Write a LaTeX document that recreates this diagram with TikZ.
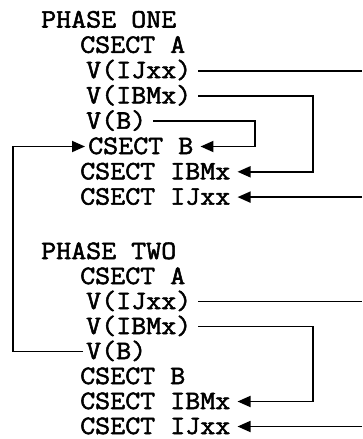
\documentclass[tikz,border=0pt]{standalone}
\usepackage{fontspec}
\newfontfamily\typew{Latin Modern Mono}[FakeBold=2,FakeStretch=1.1]
\usetikzlibrary{arrows.meta}
\begin{document}
\begin{tikzpicture}[x=1pt,y=-1pt,
  lbl/.style={anchor=base west, inner xsep=7pt, inner ysep=0pt, text height=15pt, text depth=0pt, font=\typew\fontsize{26.5}{26.5}\selectfont},
  conn/.style={line width=1.8pt},
  arr/.style={conn, -{Triangle[length=13pt,width=11pt]}}]
\useasboundingbox (0,0) rectangle (362,439);
\coordinate (R) at (362,0);
\coordinate (c1) at (313,0);
\coordinate (c2) at (255,0);
\coordinate (L) at (13,0);
% phase one
\node[lbl] (p1)   at (34,27.5)  {PHASE ONE};
\node[lbl] (a1)   at (73,52.8)  {CSECT A};
\node[lbl] (vij1) at (79,78.1)  {V(IJxx)};
\node[lbl] (vib1) at (79,103.4) {V(IBMx)};
\node[lbl] (vb1)  at (79,128.7) {V(B)};
\node[lbl] (cb1)  at (81,154)   {CSECT B};
\node[lbl] (cib1) at (73,179.3) {CSECT IBMx};
\node[lbl] (cij1) at (73,204.6) {CSECT IJxx};
% phase two
\node[lbl] (p2)   at (34,259)   {PHASE TWO};
\node[lbl] (a2)   at (73,284)   {CSECT A};
\node[lbl] (vij2) at (79,309)   {V(IJxx)};
\node[lbl] (vib2) at (79,334)   {V(IBMx)};
\node[lbl] (vb2)  at (79,359)   {V(B)};
\node[lbl] (cb2)  at (73,384)   {CSECT B};
\node[lbl] (cib2) at (73,409)   {CSECT IBMx};
\node[lbl] (cij2) at (73,434)   {CSECT IJxx};
% connectors phase one
\draw[conn] (vij1.east) -- (vij1.east -| R);
\draw[arr] (vib1.east) -- (vib1.east -| c1) -- (cib1.east -| c1) -- (cib1.east);
\draw[arr] (vb1.east) -- (vb1.east -| c2) -- (cb1.east -| c2) -- (cb1.east);
\draw[arr] (cij1.east -| R) -- (cij1.east);
% connectors phase two
\draw[conn] (vij2.east) -- (vij2.east -| R);
\draw[arr] (vib2.east) -- (vib2.east -| c1) -- (cib2.east -| c1) -- (cib2.east);
\draw[arr] ([xshift=4pt]vb2.west) -- (vb2.west -| L) -- (cb1.west -| L) -- ([xshift=4pt]cb1.west);
\draw[arr] (cij2.east -| R) -- (cij2.east);
\end{tikzpicture}
\end{document}
